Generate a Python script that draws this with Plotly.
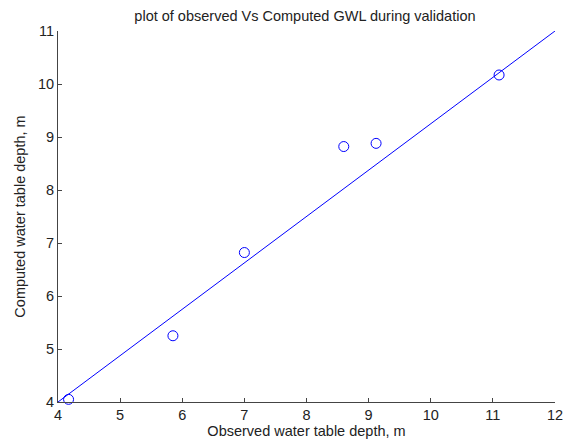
import plotly.graph_objects as go

observed = [4.17, 5.85, 7.0, 8.6, 9.12, 11.1]
computed = [4.05, 5.25, 6.82, 8.82, 8.88, 10.17]
line_x = [4, 12]
line_y = [4, 11]

title = "plot of observed Vs Computed GWL during validation"
x_title = "Observed water table depth, m"
y_title = "Computed water table depth, m"

FONT = "Liberation Sans, Arial"

fig = go.Figure()
fig.add_trace(go.Scatter(x=line_x, y=line_y, mode="lines",
                         line=dict(color="#0000ff", width=1), showlegend=False))
fig.add_trace(go.Scatter(x=observed, y=computed, mode="markers",
                         marker=dict(symbol="circle-open", size=10,
                                     color="#0000ff", line=dict(width=1)),
                         showlegend=False, cliponaxis=False))

axis_common = dict(showgrid=False, zeroline=False, showline=True,
                   linecolor="#444444", linewidth=1, ticks="inside",
                   ticklen=4, tickcolor="#444444", mirror=False, automargin=False,
                   tickfont=dict(family=FONT, size=14.5, color="#222222"))

fig.update_layout(
    width=570, height=445,
    margin=dict(l=58, r=15, t=31, b=43),
    paper_bgcolor="white", plot_bgcolor="white",
    title=dict(text=title, x=0.535, xanchor="center", y=0.965, yanchor="middle",
               font=dict(family=FONT, size=14.5, color="#222222")),
    xaxis=dict(range=[4, 12], dtick=1, tick0=4,
               title=dict(text=x_title, standoff=2,
                          font=dict(family=FONT, size=14.5, color="#222222")),
               **axis_common),
    yaxis=dict(range=[4, 11], dtick=1, tick0=4,
               title=dict(text=y_title, standoff=8,
                          font=dict(family=FONT, size=14.5, color="#222222")),
               **axis_common),
)

fig.write_html("out.html")
